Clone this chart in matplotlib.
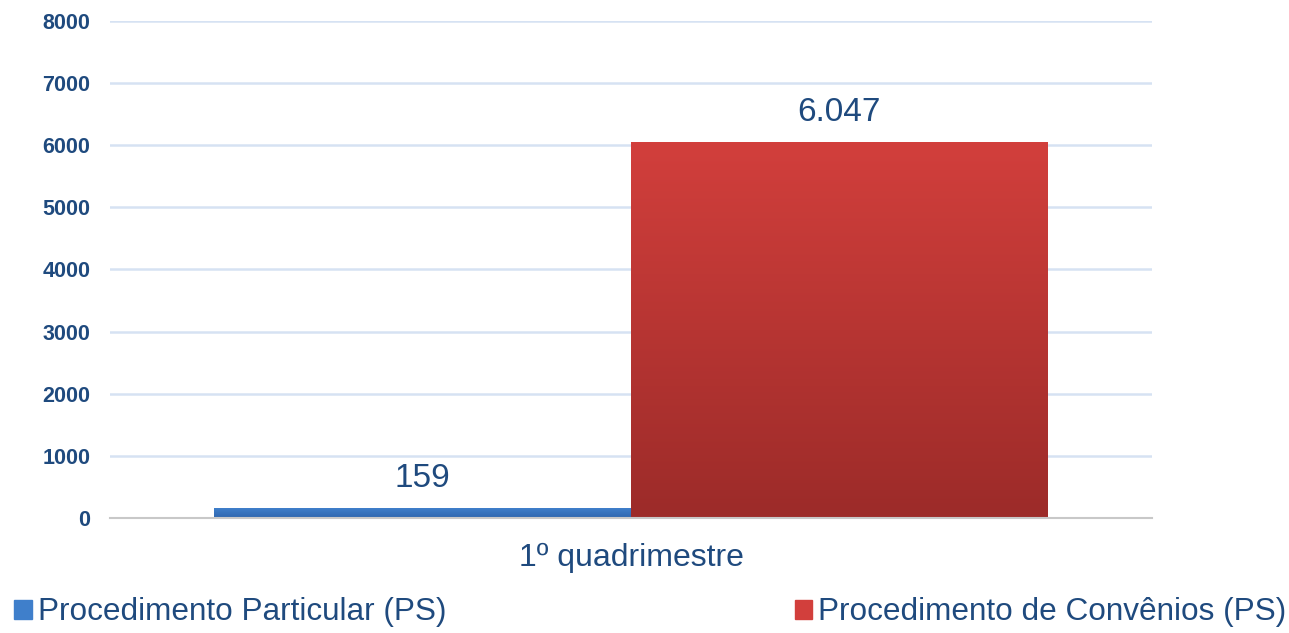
import numpy as np
import matplotlib
matplotlib.use("Agg")
import matplotlib.pyplot as plt
from matplotlib.colors import LinearSegmentedColormap

plt.rcParams['font.family'] = ['Liberation Sans', 'DejaVu Sans']

category = "1º quadrimestre"
series = ["Procedimento Particular (PS)", "Procedimento de Convênios (PS)"]
values = [159, 6047]
labels = ["159", "6.047"]
yticks = [0, 1000, 2000, 3000, 4000, 5000, 6000, 7000, 8000]

# gradient top -> bottom
grads = [("#3F7FCB", "#2F66AE"), ("#D23F3C", "#9C2B29")]
text_col = "#1F4A7E"

fig = plt.figure(figsize=(12.89, 6.33), dpi=100)
ax = fig.add_axes([0.0853, 0.1817, 0.8084, 0.7851])

width = 0.4
offsets = [-width / 2, width / 2]
bars = []
for i, v in enumerate(values):
    b = ax.bar(offsets[i], v, width=width, color=grads[i][0], zorder=3, linewidth=0)
    bars.append(b[0])

# gradient fill, clipped to each bar
for i, b in enumerate(bars):
    cmap = LinearSegmentedColormap.from_list("g%d" % i, [grads[i][1], grads[i][0]])
    x0, y0 = b.get_x(), b.get_y()
    grad = np.linspace(0, 1, 256).reshape(-1, 1)
    im = ax.imshow(grad, cmap=cmap, aspect="auto", origin="lower",
                   extent=[x0, x0 + b.get_width(), y0, y0 + b.get_height()], zorder=4)
    im.set_clip_path(b)
ax.set_aspect("auto")
ax.set_xlim(-0.5, 0.5)
ax.set_ylim(0, 8000)

for i, b in enumerate(bars):
    ax.annotate(labels[i], (b.get_x() + b.get_width() / 2, b.get_height()),
                xytext=(0, 10), textcoords="offset points", ha="center", va="bottom",
                fontsize=24, color=text_col, zorder=5)

ax.set_yticks(yticks)
ax.set_yticklabels([str(t) for t in yticks], fontsize=15.5, fontweight="bold", color=text_col)
ax.set_xticks([0])
ax.set_xticklabels([category], fontsize=23, color=text_col)
ax.tick_params(axis="y", length=0, pad=14)
ax.tick_params(axis="x", length=0, pad=18)

ax.yaxis.grid(True, color="#D6E2F3", linewidth=1.8, zorder=0)
ax.set_axisbelow(True)
for s in ["top", "right", "left"]:
    ax.spines[s].set_visible(False)
ax.spines["bottom"].set_color("#C8C8C8")
ax.spines["bottom"].set_linewidth(1.5)
ax.spines["bottom"].set_zorder(6)

handles = [plt.Rectangle((0, 0), 1, 1, color=grads[i][0]) for i in range(2)]
fig.legend(handles, series, loc="center", ncol=2, mode="expand",
           bbox_to_anchor=(0.011, 0.0, 0.987, 0.065), frameon=False,
           fontsize=22.7, labelcolor=text_col, handlelength=0.55, handleheight=0.55,
           handletextpad=0.2, borderaxespad=0, borderpad=0)

fig.savefig("out.png", dpi=100)
